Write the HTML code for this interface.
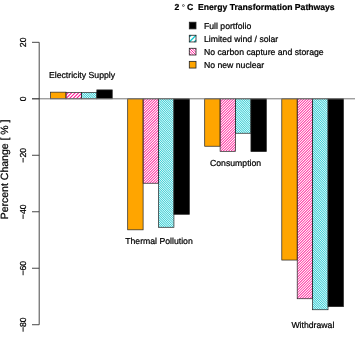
<!DOCTYPE html>
<html><head><meta charset="utf-8"><title>2 °C Energy Transformation Pathways</title>
<style>html,body{margin:0;padding:0;background:#fff}svg{display:block}text{stroke:#000;stroke-width:0.22px;text-rendering:geometricPrecision;font-family:"Liberation Sans",sans-serif;fill:#000}</style></head><body>
<svg width="355" height="339" viewBox="0 0 355 339">
<rect width="355" height="339" fill="#fff"/>
<rect x="50.60" y="92.16" width="15.41" height="6.64" fill="#FFA500" stroke="#222" stroke-width="0.7"/>
<clipPath id="c01"><rect x="66.01" y="92.45" width="15.41" height="6.35"/></clipPath>
<path clip-path="url(#c01)" d="M64.27 92.49H65.75L83.16 75.08H81.68ZM64.27 95.99H65.75L83.16 78.58H81.68ZM64.27 99.49H65.75L83.16 82.08H81.68ZM64.27 102.99H65.75L83.16 85.58H81.68ZM64.27 106.49H65.75L83.16 89.08H81.68ZM64.27 109.99H65.75L83.16 92.58H81.68ZM64.27 113.49H65.75L83.16 96.08H81.68Z" fill="#FF1493"/>
<rect x="66.01" y="92.45" width="15.41" height="6.35" fill="none" stroke="#222" stroke-width="0.7"/>
<clipPath id="c02"><rect x="81.42" y="92.45" width="15.41" height="6.35"/></clipPath>
<path clip-path="url(#c02)" d="M79.90 98.42H80.94L98.35 115.83H97.31ZM79.90 96.17H80.94L98.35 113.58H97.31ZM79.90 93.92H80.94L98.35 111.33H97.31ZM79.90 91.67H80.94L98.35 109.08H97.31ZM79.90 89.42H80.94L98.35 106.83H97.31ZM79.90 87.17H80.94L98.35 104.58H97.31ZM79.90 84.92H80.94L98.35 102.33H97.31ZM79.90 82.67H80.94L98.35 100.08H97.31ZM79.90 80.42H80.94L98.35 97.83H97.31ZM79.90 78.17H80.94L98.35 95.58H97.31ZM79.90 75.92H80.94L98.35 93.33H97.31Z" fill="#08C4CC"/>
<rect x="81.42" y="92.45" width="15.41" height="6.35" fill="none" stroke="#222" stroke-width="0.7"/>
<rect x="96.83" y="89.90" width="15.41" height="8.90" fill="#000" stroke="#222" stroke-width="0.7"/>
<rect x="127.70" y="98.80" width="15.41" height="131.03" fill="#FFA500" stroke="#222" stroke-width="0.7"/>
<clipPath id="c11"><rect x="143.11" y="98.80" width="15.41" height="84.44"/></clipPath>
<path clip-path="url(#c11)" d="M141.54 99.69H142.68L160.09 82.28H158.95ZM141.54 102.29H142.68L160.09 84.88H158.95ZM141.54 104.89H142.68L160.09 87.48H158.95ZM141.54 107.49H142.68L160.09 90.08H158.95ZM141.54 110.09H142.68L160.09 92.68H158.95ZM141.54 112.69H142.68L160.09 95.28H158.95ZM141.54 115.29H142.68L160.09 97.88H158.95ZM141.54 117.89H142.68L160.09 100.48H158.95ZM141.54 120.49H142.68L160.09 103.08H158.95ZM141.54 123.09H142.68L160.09 105.68H158.95ZM141.54 125.69H142.68L160.09 108.28H158.95ZM141.54 128.29H142.68L160.09 110.88H158.95ZM141.54 130.89H142.68L160.09 113.48H158.95ZM141.54 133.49H142.68L160.09 116.08H158.95ZM141.54 136.09H142.68L160.09 118.68H158.95ZM141.54 138.69H142.68L160.09 121.28H158.95ZM141.54 141.29H142.68L160.09 123.88H158.95ZM141.54 143.89H142.68L160.09 126.48H158.95ZM141.54 146.49H142.68L160.09 129.08H158.95ZM141.54 149.09H142.68L160.09 131.68H158.95ZM141.54 151.69H142.68L160.09 134.28H158.95ZM141.54 154.29H142.68L160.09 136.88H158.95ZM141.54 156.89H142.68L160.09 139.48H158.95ZM141.54 159.49H142.68L160.09 142.08H158.95ZM141.54 162.09H142.68L160.09 144.68H158.95ZM141.54 164.69H142.68L160.09 147.28H158.95ZM141.54 167.29H142.68L160.09 149.88H158.95ZM141.54 169.89H142.68L160.09 152.48H158.95ZM141.54 172.49H142.68L160.09 155.08H158.95ZM141.54 175.09H142.68L160.09 157.68H158.95ZM141.54 177.69H142.68L160.09 160.28H158.95ZM141.54 180.29H142.68L160.09 162.88H158.95ZM141.54 182.89H142.68L160.09 165.48H158.95ZM141.54 185.49H142.68L160.09 168.08H158.95ZM141.54 188.09H142.68L160.09 170.68H158.95ZM141.54 190.69H142.68L160.09 173.28H158.95ZM141.54 193.29H142.68L160.09 175.88H158.95ZM141.54 195.89H142.68L160.09 178.48H158.95ZM141.54 198.49H142.68L160.09 181.08H158.95Z" fill="#FF1493"/>
<rect x="143.11" y="98.80" width="15.41" height="84.44" fill="none" stroke="#222" stroke-width="0.7"/>
<clipPath id="c12"><rect x="158.52" y="98.80" width="15.41" height="128.49"/></clipPath>
<path clip-path="url(#c12)" d="M157.00 227.27H158.04L175.45 244.68H174.41ZM157.00 225.02H158.04L175.45 242.43H174.41ZM157.00 222.77H158.04L175.45 240.18H174.41ZM157.00 220.52H158.04L175.45 237.93H174.41ZM157.00 218.27H158.04L175.45 235.68H174.41ZM157.00 216.02H158.04L175.45 233.43H174.41ZM157.00 213.77H158.04L175.45 231.18H174.41ZM157.00 211.52H158.04L175.45 228.93H174.41ZM157.00 209.27H158.04L175.45 226.68H174.41ZM157.00 207.02H158.04L175.45 224.43H174.41ZM157.00 204.77H158.04L175.45 222.18H174.41ZM157.00 202.52H158.04L175.45 219.93H174.41ZM157.00 200.27H158.04L175.45 217.68H174.41ZM157.00 198.02H158.04L175.45 215.43H174.41ZM157.00 195.77H158.04L175.45 213.18H174.41ZM157.00 193.52H158.04L175.45 210.93H174.41ZM157.00 191.27H158.04L175.45 208.68H174.41ZM157.00 189.02H158.04L175.45 206.43H174.41ZM157.00 186.77H158.04L175.45 204.18H174.41ZM157.00 184.52H158.04L175.45 201.93H174.41ZM157.00 182.27H158.04L175.45 199.68H174.41ZM157.00 180.02H158.04L175.45 197.43H174.41ZM157.00 177.77H158.04L175.45 195.18H174.41ZM157.00 175.52H158.04L175.45 192.93H174.41ZM157.00 173.27H158.04L175.45 190.68H174.41ZM157.00 171.02H158.04L175.45 188.43H174.41ZM157.00 168.77H158.04L175.45 186.18H174.41ZM157.00 166.52H158.04L175.45 183.93H174.41ZM157.00 164.27H158.04L175.45 181.68H174.41ZM157.00 162.02H158.04L175.45 179.43H174.41ZM157.00 159.77H158.04L175.45 177.18H174.41ZM157.00 157.52H158.04L175.45 174.93H174.41ZM157.00 155.27H158.04L175.45 172.68H174.41ZM157.00 153.02H158.04L175.45 170.43H174.41ZM157.00 150.77H158.04L175.45 168.18H174.41ZM157.00 148.52H158.04L175.45 165.93H174.41ZM157.00 146.27H158.04L175.45 163.68H174.41ZM157.00 144.02H158.04L175.45 161.43H174.41ZM157.00 141.77H158.04L175.45 159.18H174.41ZM157.00 139.52H158.04L175.45 156.93H174.41ZM157.00 137.27H158.04L175.45 154.68H174.41ZM157.00 135.02H158.04L175.45 152.43H174.41ZM157.00 132.77H158.04L175.45 150.18H174.41ZM157.00 130.52H158.04L175.45 147.93H174.41ZM157.00 128.27H158.04L175.45 145.68H174.41ZM157.00 126.02H158.04L175.45 143.43H174.41ZM157.00 123.77H158.04L175.45 141.18H174.41ZM157.00 121.52H158.04L175.45 138.93H174.41ZM157.00 119.27H158.04L175.45 136.68H174.41ZM157.00 117.02H158.04L175.45 134.43H174.41ZM157.00 114.77H158.04L175.45 132.18H174.41ZM157.00 112.52H158.04L175.45 129.93H174.41ZM157.00 110.27H158.04L175.45 127.68H174.41ZM157.00 108.02H158.04L175.45 125.43H174.41ZM157.00 105.77H158.04L175.45 123.18H174.41ZM157.00 103.52H158.04L175.45 120.93H174.41ZM157.00 101.27H158.04L175.45 118.68H174.41ZM157.00 99.02H158.04L175.45 116.43H174.41ZM157.00 96.77H158.04L175.45 114.18H174.41ZM157.00 94.52H158.04L175.45 111.93H174.41ZM157.00 92.27H158.04L175.45 109.68H174.41ZM157.00 90.02H158.04L175.45 107.43H174.41ZM157.00 87.77H158.04L175.45 105.18H174.41ZM157.00 85.52H158.04L175.45 102.93H174.41ZM157.00 83.27H158.04L175.45 100.68H174.41Z" fill="#08C4CC"/>
<rect x="158.52" y="98.80" width="15.41" height="128.49" fill="none" stroke="#222" stroke-width="0.7"/>
<rect x="173.93" y="98.80" width="15.41" height="115.50" fill="#000" stroke="#222" stroke-width="0.7"/>
<rect x="204.70" y="98.80" width="15.41" height="47.44" fill="#FFA500" stroke="#222" stroke-width="0.7"/>
<clipPath id="c21"><rect x="220.11" y="98.80" width="15.41" height="52.53"/></clipPath>
<path clip-path="url(#c21)" d="M218.54 100.69H219.68L237.09 83.28H235.95ZM218.54 103.29H219.68L237.09 85.88H235.95ZM218.54 105.89H219.68L237.09 88.48H235.95ZM218.54 108.49H219.68L237.09 91.08H235.95ZM218.54 111.09H219.68L237.09 93.68H235.95ZM218.54 113.69H219.68L237.09 96.28H235.95ZM218.54 116.29H219.68L237.09 98.88H235.95ZM218.54 118.89H219.68L237.09 101.48H235.95ZM218.54 121.49H219.68L237.09 104.08H235.95ZM218.54 124.09H219.68L237.09 106.68H235.95ZM218.54 126.69H219.68L237.09 109.28H235.95ZM218.54 129.29H219.68L237.09 111.88H235.95ZM218.54 131.89H219.68L237.09 114.48H235.95ZM218.54 134.49H219.68L237.09 117.08H235.95ZM218.54 137.09H219.68L237.09 119.68H235.95ZM218.54 139.69H219.68L237.09 122.28H235.95ZM218.54 142.29H219.68L237.09 124.88H235.95ZM218.54 144.89H219.68L237.09 127.48H235.95ZM218.54 147.49H219.68L237.09 130.08H235.95ZM218.54 150.09H219.68L237.09 132.68H235.95ZM218.54 152.69H219.68L237.09 135.28H235.95ZM218.54 155.29H219.68L237.09 137.88H235.95ZM218.54 157.89H219.68L237.09 140.48H235.95ZM218.54 160.49H219.68L237.09 143.08H235.95ZM218.54 163.09H219.68L237.09 145.68H235.95ZM218.54 165.69H219.68L237.09 148.28H235.95ZM218.54 168.29H219.68L237.09 150.88H235.95Z" fill="#FF1493"/>
<rect x="220.11" y="98.80" width="15.41" height="52.53" fill="none" stroke="#222" stroke-width="0.7"/>
<clipPath id="c22"><rect x="235.52" y="98.80" width="15.41" height="34.45"/></clipPath>
<path clip-path="url(#c22)" d="M234.00 133.27H235.04L252.45 150.68H251.41ZM234.00 131.02H235.04L252.45 148.43H251.41ZM234.00 128.77H235.04L252.45 146.18H251.41ZM234.00 126.52H235.04L252.45 143.93H251.41ZM234.00 124.27H235.04L252.45 141.68H251.41ZM234.00 122.02H235.04L252.45 139.43H251.41ZM234.00 119.77H235.04L252.45 137.18H251.41ZM234.00 117.52H235.04L252.45 134.93H251.41ZM234.00 115.27H235.04L252.45 132.68H251.41ZM234.00 113.02H235.04L252.45 130.43H251.41ZM234.00 110.77H235.04L252.45 128.18H251.41ZM234.00 108.52H235.04L252.45 125.93H251.41ZM234.00 106.27H235.04L252.45 123.68H251.41ZM234.00 104.02H235.04L252.45 121.43H251.41ZM234.00 101.77H235.04L252.45 119.18H251.41ZM234.00 99.52H235.04L252.45 116.93H251.41ZM234.00 97.27H235.04L252.45 114.68H251.41ZM234.00 95.02H235.04L252.45 112.43H251.41ZM234.00 92.77H235.04L252.45 110.18H251.41ZM234.00 90.52H235.04L252.45 107.93H251.41ZM234.00 88.27H235.04L252.45 105.68H251.41ZM234.00 86.02H235.04L252.45 103.43H251.41ZM234.00 83.77H235.04L252.45 101.18H251.41ZM234.00 81.52H235.04L252.45 98.93H251.41Z" fill="#08C4CC"/>
<rect x="235.52" y="98.80" width="15.41" height="34.45" fill="none" stroke="#222" stroke-width="0.7"/>
<rect x="250.93" y="98.80" width="15.41" height="52.81" fill="#000" stroke="#222" stroke-width="0.7"/>
<rect x="281.80" y="98.80" width="15.41" height="161.25" fill="#FFA500" stroke="#222" stroke-width="0.7"/>
<clipPath id="c31"><rect x="297.21" y="98.80" width="15.41" height="199.94"/></clipPath>
<path clip-path="url(#c31)" d="M295.64 98.99H296.78L314.19 81.58H313.05ZM295.64 101.59H296.78L314.19 84.18H313.05ZM295.64 104.19H296.78L314.19 86.78H313.05ZM295.64 106.79H296.78L314.19 89.38H313.05ZM295.64 109.39H296.78L314.19 91.98H313.05ZM295.64 111.99H296.78L314.19 94.58H313.05ZM295.64 114.59H296.78L314.19 97.18H313.05ZM295.64 117.19H296.78L314.19 99.78H313.05ZM295.64 119.79H296.78L314.19 102.38H313.05ZM295.64 122.39H296.78L314.19 104.98H313.05ZM295.64 124.99H296.78L314.19 107.58H313.05ZM295.64 127.59H296.78L314.19 110.18H313.05ZM295.64 130.19H296.78L314.19 112.78H313.05ZM295.64 132.79H296.78L314.19 115.38H313.05ZM295.64 135.39H296.78L314.19 117.98H313.05ZM295.64 137.99H296.78L314.19 120.58H313.05ZM295.64 140.59H296.78L314.19 123.18H313.05ZM295.64 143.19H296.78L314.19 125.78H313.05ZM295.64 145.79H296.78L314.19 128.38H313.05ZM295.64 148.39H296.78L314.19 130.98H313.05ZM295.64 150.99H296.78L314.19 133.58H313.05ZM295.64 153.59H296.78L314.19 136.18H313.05ZM295.64 156.19H296.78L314.19 138.78H313.05ZM295.64 158.79H296.78L314.19 141.38H313.05ZM295.64 161.39H296.78L314.19 143.98H313.05ZM295.64 163.99H296.78L314.19 146.58H313.05ZM295.64 166.59H296.78L314.19 149.18H313.05ZM295.64 169.19H296.78L314.19 151.78H313.05ZM295.64 171.79H296.78L314.19 154.38H313.05ZM295.64 174.39H296.78L314.19 156.98H313.05ZM295.64 176.99H296.78L314.19 159.58H313.05ZM295.64 179.59H296.78L314.19 162.18H313.05ZM295.64 182.19H296.78L314.19 164.78H313.05ZM295.64 184.79H296.78L314.19 167.38H313.05ZM295.64 187.39H296.78L314.19 169.98H313.05ZM295.64 189.99H296.78L314.19 172.58H313.05ZM295.64 192.59H296.78L314.19 175.18H313.05ZM295.64 195.19H296.78L314.19 177.78H313.05ZM295.64 197.79H296.78L314.19 180.38H313.05ZM295.64 200.39H296.78L314.19 182.98H313.05ZM295.64 202.99H296.78L314.19 185.58H313.05ZM295.64 205.59H296.78L314.19 188.18H313.05ZM295.64 208.19H296.78L314.19 190.78H313.05ZM295.64 210.79H296.78L314.19 193.38H313.05ZM295.64 213.39H296.78L314.19 195.98H313.05ZM295.64 215.99H296.78L314.19 198.58H313.05ZM295.64 218.59H296.78L314.19 201.18H313.05ZM295.64 221.19H296.78L314.19 203.78H313.05ZM295.64 223.79H296.78L314.19 206.38H313.05ZM295.64 226.39H296.78L314.19 208.98H313.05ZM295.64 228.99H296.78L314.19 211.58H313.05ZM295.64 231.59H296.78L314.19 214.18H313.05ZM295.64 234.19H296.78L314.19 216.78H313.05ZM295.64 236.79H296.78L314.19 219.38H313.05ZM295.64 239.39H296.78L314.19 221.98H313.05ZM295.64 241.99H296.78L314.19 224.58H313.05ZM295.64 244.59H296.78L314.19 227.18H313.05ZM295.64 247.19H296.78L314.19 229.78H313.05ZM295.64 249.79H296.78L314.19 232.38H313.05ZM295.64 252.39H296.78L314.19 234.98H313.05ZM295.64 254.99H296.78L314.19 237.58H313.05ZM295.64 257.59H296.78L314.19 240.18H313.05ZM295.64 260.19H296.78L314.19 242.78H313.05ZM295.64 262.79H296.78L314.19 245.38H313.05ZM295.64 265.39H296.78L314.19 247.98H313.05ZM295.64 267.99H296.78L314.19 250.58H313.05ZM295.64 270.59H296.78L314.19 253.18H313.05ZM295.64 273.19H296.78L314.19 255.78H313.05ZM295.64 275.79H296.78L314.19 258.38H313.05ZM295.64 278.39H296.78L314.19 260.98H313.05ZM295.64 280.99H296.78L314.19 263.58H313.05ZM295.64 283.59H296.78L314.19 266.18H313.05ZM295.64 286.19H296.78L314.19 268.78H313.05ZM295.64 288.79H296.78L314.19 271.38H313.05ZM295.64 291.39H296.78L314.19 273.98H313.05ZM295.64 293.99H296.78L314.19 276.58H313.05ZM295.64 296.59H296.78L314.19 279.18H313.05ZM295.64 299.19H296.78L314.19 281.78H313.05ZM295.64 301.79H296.78L314.19 284.38H313.05ZM295.64 304.39H296.78L314.19 286.98H313.05ZM295.64 306.99H296.78L314.19 289.58H313.05ZM295.64 309.59H296.78L314.19 292.18H313.05ZM295.64 312.19H296.78L314.19 294.78H313.05ZM295.64 314.79H296.78L314.19 297.38H313.05Z" fill="#FF1493"/>
<rect x="297.21" y="98.80" width="15.41" height="199.94" fill="none" stroke="#222" stroke-width="0.7"/>
<clipPath id="c32"><rect x="312.62" y="98.80" width="15.41" height="210.95"/></clipPath>
<path clip-path="url(#c32)" d="M311.10 309.37H312.14L329.55 326.78H328.51ZM311.10 307.12H312.14L329.55 324.53H328.51ZM311.10 304.87H312.14L329.55 322.28H328.51ZM311.10 302.62H312.14L329.55 320.03H328.51ZM311.10 300.37H312.14L329.55 317.78H328.51ZM311.10 298.12H312.14L329.55 315.53H328.51ZM311.10 295.87H312.14L329.55 313.28H328.51ZM311.10 293.62H312.14L329.55 311.03H328.51ZM311.10 291.37H312.14L329.55 308.78H328.51ZM311.10 289.12H312.14L329.55 306.53H328.51ZM311.10 286.87H312.14L329.55 304.28H328.51ZM311.10 284.62H312.14L329.55 302.03H328.51ZM311.10 282.37H312.14L329.55 299.78H328.51ZM311.10 280.12H312.14L329.55 297.53H328.51ZM311.10 277.87H312.14L329.55 295.28H328.51ZM311.10 275.62H312.14L329.55 293.03H328.51ZM311.10 273.37H312.14L329.55 290.78H328.51ZM311.10 271.12H312.14L329.55 288.53H328.51ZM311.10 268.87H312.14L329.55 286.28H328.51ZM311.10 266.62H312.14L329.55 284.03H328.51ZM311.10 264.37H312.14L329.55 281.78H328.51ZM311.10 262.12H312.14L329.55 279.53H328.51ZM311.10 259.87H312.14L329.55 277.28H328.51ZM311.10 257.62H312.14L329.55 275.03H328.51ZM311.10 255.37H312.14L329.55 272.78H328.51ZM311.10 253.12H312.14L329.55 270.53H328.51ZM311.10 250.87H312.14L329.55 268.28H328.51ZM311.10 248.62H312.14L329.55 266.03H328.51ZM311.10 246.37H312.14L329.55 263.78H328.51ZM311.10 244.12H312.14L329.55 261.53H328.51ZM311.10 241.87H312.14L329.55 259.28H328.51ZM311.10 239.62H312.14L329.55 257.03H328.51ZM311.10 237.37H312.14L329.55 254.78H328.51ZM311.10 235.12H312.14L329.55 252.53H328.51ZM311.10 232.87H312.14L329.55 250.28H328.51ZM311.10 230.62H312.14L329.55 248.03H328.51ZM311.10 228.37H312.14L329.55 245.78H328.51ZM311.10 226.12H312.14L329.55 243.53H328.51ZM311.10 223.87H312.14L329.55 241.28H328.51ZM311.10 221.62H312.14L329.55 239.03H328.51ZM311.10 219.37H312.14L329.55 236.78H328.51ZM311.10 217.12H312.14L329.55 234.53H328.51ZM311.10 214.87H312.14L329.55 232.28H328.51ZM311.10 212.62H312.14L329.55 230.03H328.51ZM311.10 210.37H312.14L329.55 227.78H328.51ZM311.10 208.12H312.14L329.55 225.53H328.51ZM311.10 205.87H312.14L329.55 223.28H328.51ZM311.10 203.62H312.14L329.55 221.03H328.51ZM311.10 201.37H312.14L329.55 218.78H328.51ZM311.10 199.12H312.14L329.55 216.53H328.51ZM311.10 196.87H312.14L329.55 214.28H328.51ZM311.10 194.62H312.14L329.55 212.03H328.51ZM311.10 192.37H312.14L329.55 209.78H328.51ZM311.10 190.12H312.14L329.55 207.53H328.51ZM311.10 187.87H312.14L329.55 205.28H328.51ZM311.10 185.62H312.14L329.55 203.03H328.51ZM311.10 183.37H312.14L329.55 200.78H328.51ZM311.10 181.12H312.14L329.55 198.53H328.51ZM311.10 178.87H312.14L329.55 196.28H328.51ZM311.10 176.62H312.14L329.55 194.03H328.51ZM311.10 174.37H312.14L329.55 191.78H328.51ZM311.10 172.12H312.14L329.55 189.53H328.51ZM311.10 169.87H312.14L329.55 187.28H328.51ZM311.10 167.62H312.14L329.55 185.03H328.51ZM311.10 165.37H312.14L329.55 182.78H328.51ZM311.10 163.12H312.14L329.55 180.53H328.51ZM311.10 160.87H312.14L329.55 178.28H328.51ZM311.10 158.62H312.14L329.55 176.03H328.51ZM311.10 156.37H312.14L329.55 173.78H328.51ZM311.10 154.12H312.14L329.55 171.53H328.51ZM311.10 151.87H312.14L329.55 169.28H328.51ZM311.10 149.62H312.14L329.55 167.03H328.51ZM311.10 147.37H312.14L329.55 164.78H328.51ZM311.10 145.12H312.14L329.55 162.53H328.51ZM311.10 142.87H312.14L329.55 160.28H328.51ZM311.10 140.62H312.14L329.55 158.03H328.51ZM311.10 138.37H312.14L329.55 155.78H328.51ZM311.10 136.12H312.14L329.55 153.53H328.51ZM311.10 133.87H312.14L329.55 151.28H328.51ZM311.10 131.62H312.14L329.55 149.03H328.51ZM311.10 129.37H312.14L329.55 146.78H328.51ZM311.10 127.12H312.14L329.55 144.53H328.51ZM311.10 124.87H312.14L329.55 142.28H328.51ZM311.10 122.62H312.14L329.55 140.03H328.51ZM311.10 120.37H312.14L329.55 137.78H328.51ZM311.10 118.12H312.14L329.55 135.53H328.51ZM311.10 115.87H312.14L329.55 133.28H328.51ZM311.10 113.62H312.14L329.55 131.03H328.51ZM311.10 111.37H312.14L329.55 128.78H328.51ZM311.10 109.12H312.14L329.55 126.53H328.51ZM311.10 106.87H312.14L329.55 124.28H328.51ZM311.10 104.62H312.14L329.55 122.03H328.51ZM311.10 102.37H312.14L329.55 119.78H328.51ZM311.10 100.12H312.14L329.55 117.53H328.51ZM311.10 97.87H312.14L329.55 115.28H328.51ZM311.10 95.62H312.14L329.55 113.03H328.51ZM311.10 93.37H312.14L329.55 110.78H328.51ZM311.10 91.12H312.14L329.55 108.53H328.51ZM311.10 88.87H312.14L329.55 106.28H328.51ZM311.10 86.62H312.14L329.55 104.03H328.51ZM311.10 84.37H312.14L329.55 101.78H328.51ZM311.10 82.12H312.14L329.55 99.53H328.51Z" fill="#08C4CC"/>
<rect x="312.62" y="98.80" width="15.41" height="210.95" fill="none" stroke="#222" stroke-width="0.7"/>
<rect x="328.03" y="98.80" width="15.41" height="207.85" fill="#000" stroke="#222" stroke-width="0.7"/>
<line x1="32" y1="98.8" x2="355" y2="98.8" stroke="#777" stroke-width="1"/>
<path d="M32 42.32H39.2V324.72H32" fill="none" stroke="#333" stroke-width="0.9"/>
<line x1="32" y1="98.80" x2="39.2" y2="98.80" stroke="#333" stroke-width="0.9"/>
<line x1="32" y1="155.28" x2="39.2" y2="155.28" stroke="#333" stroke-width="0.9"/>
<line x1="32" y1="211.76" x2="39.2" y2="211.76" stroke="#333" stroke-width="0.9"/>
<line x1="32" y1="268.24" x2="39.2" y2="268.24" stroke="#333" stroke-width="0.9"/>
<text transform="translate(25.8 42.32) rotate(-90)" font-size="8.7" text-anchor="middle">20</text>
<text transform="translate(25.8 98.80) rotate(-90)" font-size="8.7" text-anchor="middle">0</text>
<text transform="translate(25.8 155.28) rotate(-90)" font-size="8.7" text-anchor="middle">−20</text>
<text transform="translate(25.8 211.76) rotate(-90)" font-size="8.7" text-anchor="middle">−40</text>
<text transform="translate(25.8 268.24) rotate(-90)" font-size="8.7" text-anchor="middle">−60</text>
<text transform="translate(25.8 324.72) rotate(-90)" font-size="8.7" text-anchor="middle">−80</text>
<text transform="translate(7.8 169.4) rotate(-90)" font-size="10.5" text-anchor="middle">Percent Change [ % ]</text>
<text x="82.0" y="78.2" font-size="8.7" text-anchor="middle">Electricity Supply</text>
<text x="159" y="243.6" font-size="8.7" text-anchor="middle">Thermal Pollution</text>
<text x="235.6" y="166.2" font-size="8.7" text-anchor="middle">Consumption</text>
<text x="312.9" y="328" font-size="8.7" text-anchor="middle">Withdrawal</text>
<text x="174.6" y="9.6" font-size="8.64" font-weight="bold" xml:space="preserve">2 <tspan x="181.7" y="9.9" font-size="8" font-weight="normal" stroke-width="0.1">°</tspan><tspan x="187" y="9.6">C  Energy Transformation Pathways</tspan></text>
<rect x="189.3" y="22.20" width="6.7" height="6.7" fill="#000" stroke="#222" stroke-width="0.8"/>
<text x="203.9" y="28.70" font-size="8.7">Full portfolio</text>
<rect x="189.3" y="35.25" width="6.7" height="6.7" fill="#fff"/>
<path d="M189.30 37.05L191.10 35.25M189.30 41.95L196.00 35.25M194.20 41.95L196.00 40.15" stroke="#10C8CE" stroke-width="1.3" fill="none"/>
<rect x="189.3" y="35.25" width="6.7" height="6.7" fill="none" stroke="#222" stroke-width="0.8"/>
<text x="203.9" y="41.75" font-size="8.7">Limited wind / solar</text>
<rect x="189.3" y="48.30" width="6.7" height="6.7" fill="#fff"/>
<path d="M189.30 53.44L190.86 55.00M189.30 50.87L193.43 55.00M189.30 48.30L196.00 55.00M191.87 48.30L196.00 52.43M194.44 48.30L196.00 49.86" stroke="#FF1493" stroke-width="0.95" fill="none"/>
<rect x="189.3" y="48.30" width="6.7" height="6.7" fill="none" stroke="#222" stroke-width="0.8"/>
<text x="203.9" y="54.80" font-size="8.7">No carbon capture and storage</text>
<rect x="189.3" y="61.35" width="6.7" height="6.7" fill="#FFA500" stroke="#222" stroke-width="0.8"/>
<text x="203.9" y="67.85" font-size="8.7">No new nuclear</text>
</svg></body></html>
